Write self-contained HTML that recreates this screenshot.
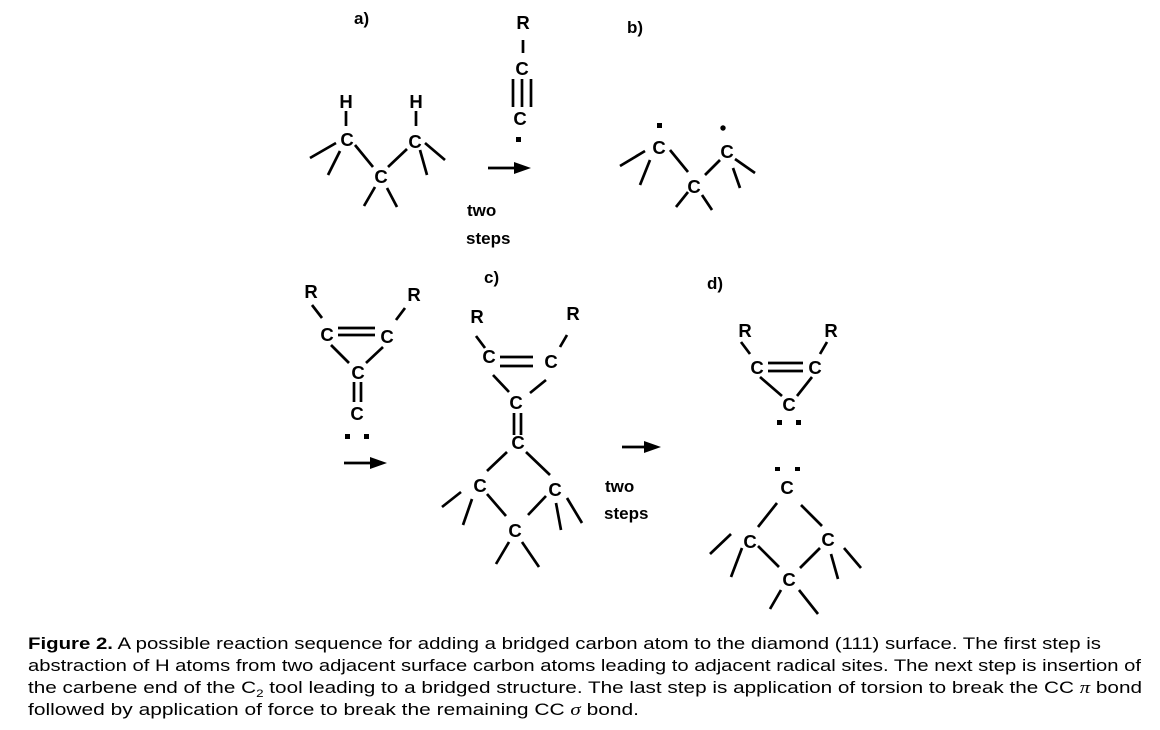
<!DOCTYPE html>
<html><head><meta charset="utf-8"><style>
html,body{margin:0;padding:0;background:#fff;}
svg{display:block;}
.a{font-family:"Liberation Sans",Arial,sans-serif;font-weight:bold;font-size:18.5px;fill:#000;text-anchor:middle;}
.l{font-family:"Liberation Sans",Arial,sans-serif;font-weight:bold;font-size:17px;fill:#000;}
.cap{font-family:"Liberation Sans",Arial,sans-serif;font-size:17px;fill:#000;}
line{stroke:#000;stroke-width:2.7;}
</style></head><body>
<svg width="1160" height="730" viewBox="0 0 1160 730" xmlns="http://www.w3.org/2000/svg">
<!-- a) -->
<text class="l" x="354" y="24">a)</text>
<text class="a" x="346" y="108">H</text><text class="a" x="416" y="108">H</text>
<line x1="346" y1="111" x2="346" y2="126"/><line x1="416" y1="111" x2="416" y2="126"/>
<text class="a" x="347" y="146">C</text><text class="a" x="415" y="148">C</text><text class="a" x="381" y="183">C</text>
<line x1="310" y1="158" x2="336" y2="143"/><line x1="328" y1="175" x2="340" y2="151"/>
<line x1="355" y1="145" x2="373" y2="167"/><line x1="388" y1="167" x2="407" y2="149"/>
<line x1="420" y1="150" x2="427" y2="175"/><line x1="425" y1="143" x2="445" y2="160"/>
<line x1="364" y1="206" x2="375" y2="187"/><line x1="397" y1="207" x2="387" y2="188"/>
<!-- tool -->
<text class="a" x="523" y="29">R</text>
<line x1="523" y1="40" x2="523" y2="53"/>
<text class="a" x="522" y="75">C</text>
<line x1="513" y1="79" x2="513" y2="107"/><line x1="522" y1="79" x2="522" y2="107"/><line x1="531" y1="79" x2="531" y2="107"/>
<text class="a" x="520" y="125">C</text>
<rect x="516" y="137" width="5" height="5" fill="#000"/>
<line x1="488" y1="168" x2="516" y2="168"/><polygon points="514,162 531,168 514,174" fill="#000"/>
<text class="l" x="467" y="216">two</text><text class="l" x="466" y="244">steps</text>
<!-- b) -->
<text class="l" x="627" y="33">b)</text>
<rect x="657" y="123" width="5" height="5" fill="#000"/><circle cx="723" cy="128" r="2.7" fill="#000"/>
<text class="a" x="659" y="154">C</text><text class="a" x="727" y="158">C</text><text class="a" x="694" y="193">C</text>
<line x1="620" y1="166" x2="645" y2="151"/><line x1="640" y1="185" x2="650" y2="160"/>
<line x1="670" y1="150" x2="688" y2="172"/><line x1="705" y1="175" x2="720" y2="160"/>
<line x1="735" y1="159" x2="755" y2="173"/><line x1="733" y1="168" x2="740" y2="188"/>
<line x1="676" y1="207" x2="688" y2="192"/><line x1="712" y1="210" x2="702" y2="195"/>
<!-- left carbene tool -->
<text class="a" x="311" y="298">R</text><text class="a" x="414" y="301">R</text>
<line x1="312" y1="305" x2="322" y2="318"/><line x1="405" y1="308" x2="396" y2="320"/>
<text class="a" x="327" y="341">C</text><text class="a" x="387" y="343">C</text>
<line x1="338" y1="328" x2="375" y2="328"/><line x1="338" y1="335" x2="375" y2="335"/>
<line x1="331" y1="345" x2="349" y2="363"/><line x1="383" y1="347" x2="366" y2="363"/>
<text class="a" x="358" y="379">C</text>
<line x1="354" y1="382" x2="354" y2="402"/><line x1="361" y1="382" x2="361" y2="402"/>
<text class="a" x="357" y="420">C</text>
<rect x="345" y="434" width="5" height="5" fill="#000"/><rect x="364" y="434" width="5" height="5" fill="#000"/>
<line x1="344" y1="463" x2="372" y2="463"/><polygon points="370,457 387,463 370,469" fill="#000"/>
<!-- c) -->
<text class="l" x="484" y="283">c)</text>
<text class="a" x="477" y="323">R</text><text class="a" x="573" y="320">R</text>
<line x1="476" y1="336" x2="485" y2="348"/><line x1="567" y1="335" x2="560" y2="347"/>
<text class="a" x="489" y="363">C</text><text class="a" x="551" y="368">C</text>
<line x1="500" y1="357" x2="533" y2="357"/><line x1="500" y1="366" x2="533" y2="366"/>
<line x1="493" y1="375" x2="509" y2="392"/><line x1="546" y1="380" x2="530" y2="393"/>
<text class="a" x="516" y="409">C</text>
<line x1="514" y1="413" x2="514" y2="435"/><line x1="521" y1="413" x2="521" y2="435"/>
<text class="a" x="518" y="449">C</text>
<line x1="507" y1="452" x2="487" y2="471"/><line x1="526" y1="452" x2="550" y2="475"/>
<text class="a" x="480" y="492">C</text><text class="a" x="555" y="496">C</text><text class="a" x="515" y="537">C</text>
<line x1="461" y1="492" x2="442" y2="507"/><line x1="472" y1="499" x2="463" y2="525"/><line x1="487" y1="494" x2="506" y2="516"/>
<line x1="546" y1="496" x2="528" y2="515"/><line x1="556" y1="503" x2="561" y2="530"/><line x1="567" y1="498" x2="582" y2="523"/>
<line x1="509" y1="542" x2="496" y2="564"/><line x1="522" y1="542" x2="539" y2="567"/>
<text class="l" x="605" y="492">two</text><text class="l" x="604" y="519">steps</text>
<line x1="622" y1="447" x2="646" y2="447"/><polygon points="644,441 661,447 644,453" fill="#000"/>
<!-- d) -->
<text class="l" x="707" y="289">d)</text>
<text class="a" x="745" y="337">R</text><text class="a" x="831" y="337">R</text>
<line x1="741" y1="342" x2="750" y2="354"/><line x1="827" y1="342" x2="820" y2="354"/>
<text class="a" x="757" y="374">C</text><text class="a" x="815" y="374">C</text>
<line x1="768" y1="363" x2="803" y2="363"/><line x1="768" y1="371" x2="803" y2="371"/>
<line x1="760" y1="377" x2="782" y2="396"/><line x1="812" y1="377" x2="797" y2="396"/>
<text class="a" x="789" y="411">C</text>
<rect x="777" y="420" width="5" height="5" fill="#000"/><rect x="796" y="420" width="5" height="5" fill="#000"/>
<rect x="775" y="467" width="5" height="4" fill="#000"/><rect x="795" y="467" width="5" height="4" fill="#000"/>
<text class="a" x="787" y="494">C</text>
<line x1="777" y1="503" x2="758" y2="527"/><line x1="801" y1="505" x2="822" y2="526"/>
<text class="a" x="750" y="548">C</text><text class="a" x="828" y="546">C</text><text class="a" x="789" y="586">C</text>
<line x1="731" y1="534" x2="710" y2="554"/><line x1="742" y1="548" x2="731" y2="577"/><line x1="758" y1="546" x2="779" y2="567"/>
<line x1="820" y1="548" x2="800" y2="568"/><line x1="831" y1="554" x2="838" y2="579"/><line x1="844" y1="548" x2="861" y2="568"/>
<line x1="781" y1="590" x2="770" y2="609"/><line x1="799" y1="590" x2="818" y2="614"/>
<!-- caption -->
<text class="cap" x="28" y="649" textLength="1073" lengthAdjust="spacingAndGlyphs"><tspan font-weight="bold">Figure 2.</tspan> A possible reaction sequence for adding a bridged carbon atom to the diamond (111) surface. The first step is</text>
<text class="cap" x="28" y="671" textLength="1113" lengthAdjust="spacingAndGlyphs">abstraction of H atoms from two adjacent surface carbon atoms leading to adjacent radical sites. The next step is insertion of</text>
<text class="cap" x="28" y="693" textLength="1114" lengthAdjust="spacingAndGlyphs">the carbene end of the C<tspan font-size="11" dy="4">2</tspan><tspan dy="-4"> tool leading to a bridged structure. The last step is application of torsion to break the CC </tspan><tspan font-family="Liberation Serif" font-style="italic">π</tspan> bond</text>
<text class="cap" x="28" y="715" textLength="611" lengthAdjust="spacingAndGlyphs">followed by application of force to break the remaining CC <tspan font-family="Liberation Serif" font-style="italic">σ</tspan> bond.</text>
</svg>
</body></html>
